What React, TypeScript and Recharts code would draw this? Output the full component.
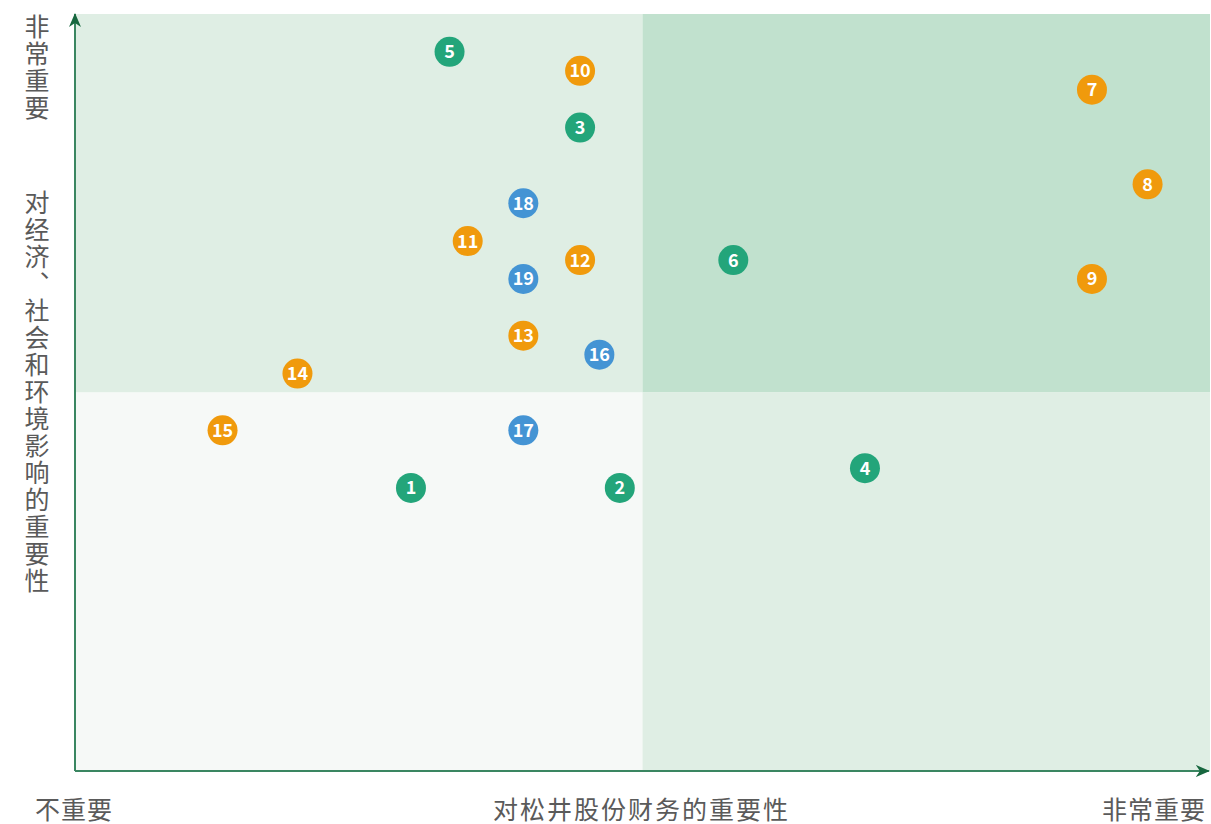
import { ScatterChart, Scatter, XAxis, YAxis, ReferenceArea, ReferenceLine } from "recharts"

// topic numbers, with their position on the matrix
const topics = [1, 2, 3, 4, 5, 6, 7, 8, 9, 10, 11, 12, 13, 14, 15, 16, 17, 18, 19]
const financial = [2.96, 4.8, 4.45, 6.96, 3.3, 5.8, 8.96, 9.45, 8.96, 4.45, 3.46, 4.45, 3.95, 1.96, 1.3, 4.62, 3.95, 3.95, 3.95]
const impact = [3.74, 3.74, 8.5, 4.0, 9.5, 6.75, 9.0, 7.75, 6.5, 9.25, 7.0, 6.75, 5.75, 5.25, 4.5, 5.5, 4.5, 7.5, 6.5]
const category = ["g", "g", "g", "g", "g", "g", "o", "o", "o", "o", "o", "o", "o", "o", "o", "b", "b", "b", "b"]

const categoryColors: Record<string, string> = {
  g: "#23a57a",
  o: "#f09a0c",
  b: "#4494d4",
}

const axisColor = "#3a8661"
const labelColor = "#5a5a5a"
const font = '"Noto Sans CJK SC", "Noto Sans", sans-serif'

const points = topics.map((id, i) => ({ id, x: financial[i], y: impact[i], cat: category[i] }))

const Bubble = (props: any) => {
  const { cx, cy, payload, fill } = props
  return (
    <g>
      <circle cx={cx} cy={cy} r={15} fill={fill} />
      <text
        x={cx}
        y={cy}
        dy="0.36em"
        textAnchor="middle"
        fill="#fff"
        fontSize={18}
        fontWeight={700}
        fontFamily={font}
      >
        {payload.id}
      </text>
    </g>
  )
}

export default function App() {
  const textStyle = {
    position: "absolute" as const,
    fontFamily: font,
    fontSize: 25,
    color: labelColor,
    lineHeight: 1,
  }

  return (
    <div style={{ position: "absolute", left: 0, top: 0, width: 1211, height: 824, background: "#fff" }}>
      <ScatterChart width={1211} height={824} margin={{ top: 14, right: 1, bottom: 53, left: 75 }}>
        <defs>
          <marker id="arrow" viewBox="0 0 14 12" refX="13" refY="6" markerWidth="14" markerHeight="12" orient="auto" markerUnits="userSpaceOnUse">
            <path d="M0,0 L14,6 L0,12 L4,6 z" fill="#17673f" />
          </marker>
        </defs>
        <XAxis type="number" dataKey="x" domain={[0, 10]} hide />
        <YAxis type="number" dataKey="y" domain={[0, 10]} hide />
        <ReferenceArea x1={0} x2={5} y1={5} y2={10} fill="#dfeee4" fillOpacity={1} stroke="none" />
        <ReferenceArea x1={5} x2={10} y1={5} y2={10} fill="#c1e1ce" fillOpacity={1} stroke="none" />
        <ReferenceArea x1={0} x2={5} y1={0} y2={5} fill="#f6f9f7" fillOpacity={1} stroke="none" />
        <ReferenceArea x1={5} x2={10} y1={0} y2={5} fill="#dfeee4" fillOpacity={1} stroke="none" />
        <ReferenceLine
          segment={[{ x: 0, y: 0 }, { x: 9.99, y: 0 }]}
          stroke={axisColor}
          strokeWidth={2}
          markerEnd="url(#arrow)"
        />
        <ReferenceLine
          segment={[{ x: 0, y: 0 }, { x: 0, y: 10 }]}
          stroke={axisColor}
          strokeWidth={2}
          markerEnd="url(#arrow)"
        />
        {["g", "o", "b"].map((c) => (
          <Scatter
            key={c}
            data={points.filter((p) => p.cat === c)}
            fill={categoryColors[c]}
            shape={Bubble}
            isAnimationActive={false}
          />
        ))}
      </ScatterChart>
      <div style={{ ...textStyle, left: 24, top: 14, writingMode: "vertical-rl", letterSpacing: 2 }}>非常重要</div>
      <div style={{ ...textStyle, left: 24, top: 190, writingMode: "vertical-rl", letterSpacing: 2 }}>
        对经济、社会和环境影响的重要性
      </div>
      <div style={{ ...textStyle, left: 35, top: 796, letterSpacing: 1 }}>不重要</div>
      <div style={{ ...textStyle, left: 0, width: 1283, top: 796, textAlign: "center", letterSpacing: 2 }}>
        对松井股份财务的重要性
      </div>
      <div style={{ ...textStyle, left: 1102, top: 796, letterSpacing: 1 }}>非常重要</div>
    </div>
  )
}
